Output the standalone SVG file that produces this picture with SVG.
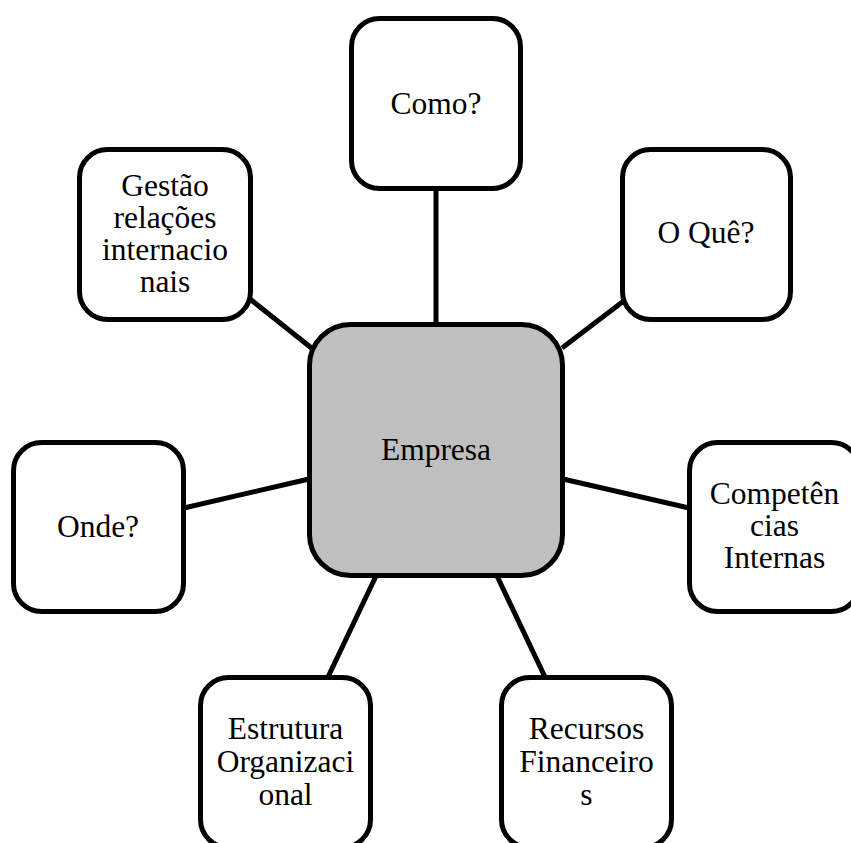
<svg xmlns="http://www.w3.org/2000/svg" width="851" height="843" viewBox="0 0 851 843">
<style>
.box{fill:#ffffff;stroke:#000;stroke-width:5}
.main{fill:#bfbfbf;stroke:#000;stroke-width:5}
.conn{stroke:#000;stroke-width:5;fill:none}
text{font-family:"Liberation Serif","Times New Roman",serif;font-size:31.5px;fill:#000;text-anchor:middle}
</style>
<rect width="851" height="843" fill="#ffffff"/>
<g id="connectors">
<line class="conn" x1="436" y1="190" x2="436" y2="324"/>
<line class="conn" x1="625" y1="300" x2="562" y2="348"/>
<line class="conn" x1="250" y1="299" x2="314" y2="350"/>
<line class="conn" x1="184" y1="508" x2="309" y2="479"/>
<line class="conn" x1="563" y1="479" x2="689" y2="508"/>
<line class="conn" x1="376" y1="576" x2="328" y2="677"/>
<line class="conn" x1="497" y1="576" x2="545" y2="677"/>
</g>
<g id="empresa">
<rect class="main" x="309.5" y="324.5" width="253" height="251" rx="41" ry="41"/>
<text x="436" y="460">Empresa</text>
</g>
<g id="como">
<rect class="box" x="351.5" y="18.5" width="169" height="170" rx="28" ry="28"/>
<text x="436" y="114">Como?</text>
</g>
<g id="oque">
<rect class="box" x="622.5" y="149.5" width="168" height="170" rx="28" ry="28"/>
<text x="706" y="243">O Quê?</text>
</g>
<g id="gestao">
<rect class="box" x="79.5" y="149.5" width="171" height="170" rx="28" ry="28"/>
<text x="165" y="196">Gestão</text>
<text x="165" y="228">relações</text>
<text x="165" y="260">internacio</text>
<text x="165" y="292">nais</text>
</g>
<g id="onde">
<rect class="box" x="13.5" y="442.5" width="170" height="169" rx="28" ry="28"/>
<text x="98" y="536.5">Onde?</text>
</g>
<g id="competencias">
<rect class="box" x="689.5" y="442.5" width="170" height="169" rx="28" ry="28"/>
<text x="774.5" y="504">Competên</text>
<text x="774.5" y="536">cias</text>
<text x="774.5" y="568">Internas</text>
</g>
<g id="estrutura">
<rect class="box" x="200.5" y="677.5" width="170" height="170" rx="28" ry="28"/>
<text x="285.5" y="738.5">Estrutura</text>
<text x="285.5" y="771.5">Organizaci</text>
<text x="285.5" y="805">onal</text>
</g>
<g id="recursos">
<rect class="box" x="501.5" y="677.5" width="170" height="170" rx="28" ry="28"/>
<text x="586.5" y="738.5">Recursos</text>
<text x="586.5" y="771.5">Financeiro</text>
<text x="586.5" y="805">s</text>
</g>
</svg>
